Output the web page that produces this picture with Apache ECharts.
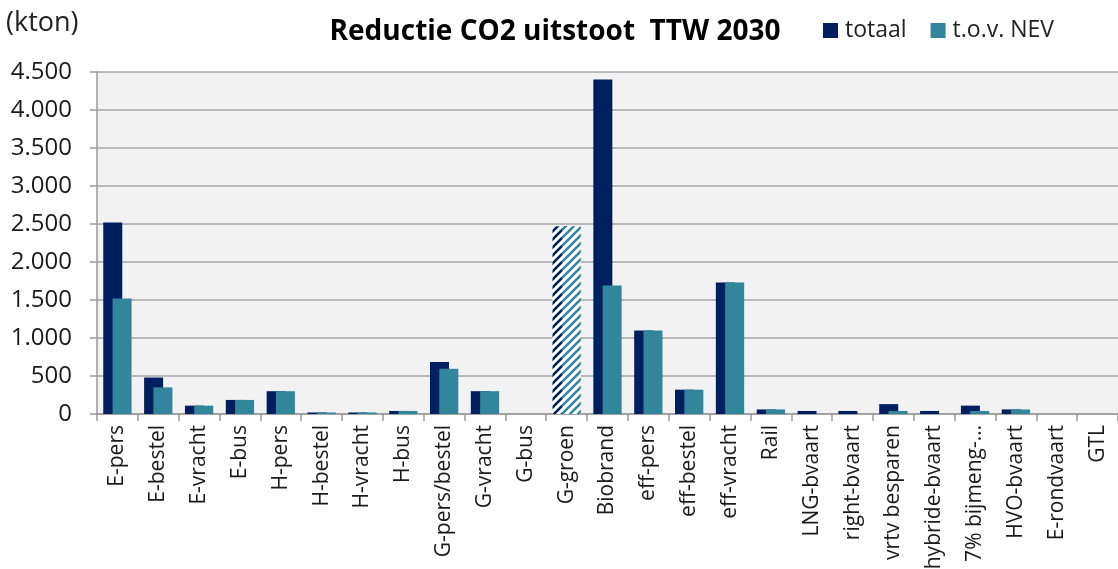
<!DOCTYPE html>
<html>
<head>
<meta charset="utf-8">
<script src="https://cdn.jsdelivr.net/npm/echarts@6/dist/echarts.min.js"></script>
<style>
  html, body { margin: 0; padding: 0; background: #fff; }
  #chart { width: 1118px; height: 569px; }
</style>
</head>
<body>
<div id="chart"></div>
<script>
// Reductie CO2 uitstoot TTW 2030 (kton)
const categories = [
  'E-pers', 'E-bestel', 'E-vracht', 'E-bus', 'H-pers', 'H-bestel', 'H-vracht',
  'H-bus', 'G-pers/bestel', 'G-vracht', 'G-bus', 'G-groen', 'Biobrand',
  'eff-pers', 'eff-bestel', 'eff-vracht', 'Rail', 'LNG-bvaart', 'right-bvaart',
  'vrtv besparen', 'hybride-bvaart', '7% bijmeng-…', 'HVO-bvaart',
  'E-rondvaart', 'GTL'
];
const totaal = [
  2520, 480, 110, 185, 300, 20, 20, 40, 685, 300, 0, 2470, 4400,
  1100, 320, 1730, 60, 40, 40, 130, 40, 110, 60, 0, 0
];
const tovNev = [
  1520, 350, 110, 185, 300, 20, 20, 40, 595, 300, 0, 2470, 1690,
  1100, 320, 1730, 60, 0, 0, 40, 0, 40, 60, 0, 0
];
const yTicks = [0, 500, 1000, 1500, 2000, 2500, 3000, 3500, 4000, 4500];
// categories drawn with a hatched fill (estimate)
const hatchedCategories = ['G-groen'];

const NAVY = '#001f5f';
const TEAL = '#31869b';
const FONT = '"Open Sans", sans-serif';

// diagonal stripe pattern on white
function hatch(color) {
  const s = 8;
  const c = document.createElement('canvas');
  c.width = s; c.height = s;
  const g = c.getContext('2d');
  g.fillStyle = '#ffffff';
  g.fillRect(0, 0, s, s);
  g.strokeStyle = color;
  g.lineWidth = 2.6;
  g.beginPath();
  g.moveTo(-1, s + 1); g.lineTo(s + 1, -1);
  g.moveTo(-3, 3); g.lineTo(3, -3);
  g.moveTo(s - 3, s + 3); g.lineTo(s + 3, s - 3);
  g.stroke();
  return c;
}

function seriesData(values, color) {
  const pattern = { image: hatch(color), repeat: 'repeat' };
  return values.map((v, i) =>
    hatchedCategories.includes(categories[i])
      ? { value: v, itemStyle: { color: pattern } }
      : v
  );
}

const fmt = v => String(v).replace(/\B(?=(\d{3})+(?!\d))/g, '.');

const chart = echarts.init(document.getElementById('chart'), null, { renderer: 'canvas' });
chart.setOption({
  animation: false,
  backgroundColor: '#ffffff',
  textStyle: { fontFamily: FONT },
  title: {
    text: 'Reductie CO2 uitstoot  TTW 2030',
    left: 550, top: 13, textAlign: 'center',
    textStyle: { fontFamily: FONT, fontWeight: 'bold', fontSize: 28, color: '#000' }
  },
  legend: {
    left: 818, top: 14,
    itemWidth: 15, itemHeight: 15, itemGap: 24,
    icon: 'rect',
    textStyle: { fontFamily: FONT, fontSize: 23, color: '#222', padding: [0, 0, 0, 2] },
    data: ['totaal', 't.o.v. NEV']
  },
  graphic: [{
    type: 'text', left: 6, top: 10,
    style: { text: '(kton)', font: '27px "Open Sans", sans-serif', fill: '#222' }
  }],
  grid: {
    left: 97, right: 0, top: 72, bottom: 155,
    containLabel: false, outerBoundsMode: 'none',
    show: true, backgroundColor: '#f2f2f2', borderWidth: 0
  },
  xAxis: {
    type: 'category',
    data: categories,
    axisLine: { lineStyle: { color: '#9a9a9a', width: 1.5 } },
    axisTick: { show: true, length: 7, lineStyle: { color: '#9a9a9a', width: 1.5 } },
    axisLabel: {
      rotate: 90, interval: 0, margin: 11,
      fontFamily: FONT, fontSize: 21, color: '#1a1a1a'
    }
  },
  yAxis: {
    type: 'value',
    min: yTicks[0], max: yTicks[yTicks.length - 1], interval: yTicks[1] - yTicks[0],
    axisLine: { show: true, lineStyle: { color: '#9a9a9a', width: 1.5 } },
    axisTick: { show: true, length: 7, lineStyle: { color: '#9a9a9a', width: 1.5 } },
    splitLine: { lineStyle: { color: '#a6a6a6', width: 1.5 } },
    axisLabel: {
      margin: 25, fontFamily: FONT, fontSize: 24, color: '#1a1a1a',
      formatter: fmt
    }
  },
  series: [
    {
      name: 'totaal', type: 'bar',
      barWidth: 19, barGap: '-51%',
      itemStyle: { color: NAVY },
      data: seriesData(totaal, NAVY)
    },
    {
      name: 't.o.v. NEV', type: 'bar',
      barWidth: 19,
      itemStyle: { color: TEAL },
      data: seriesData(tovNev, TEAL)
    }
  ]
});
</script>
</body>
</html>
